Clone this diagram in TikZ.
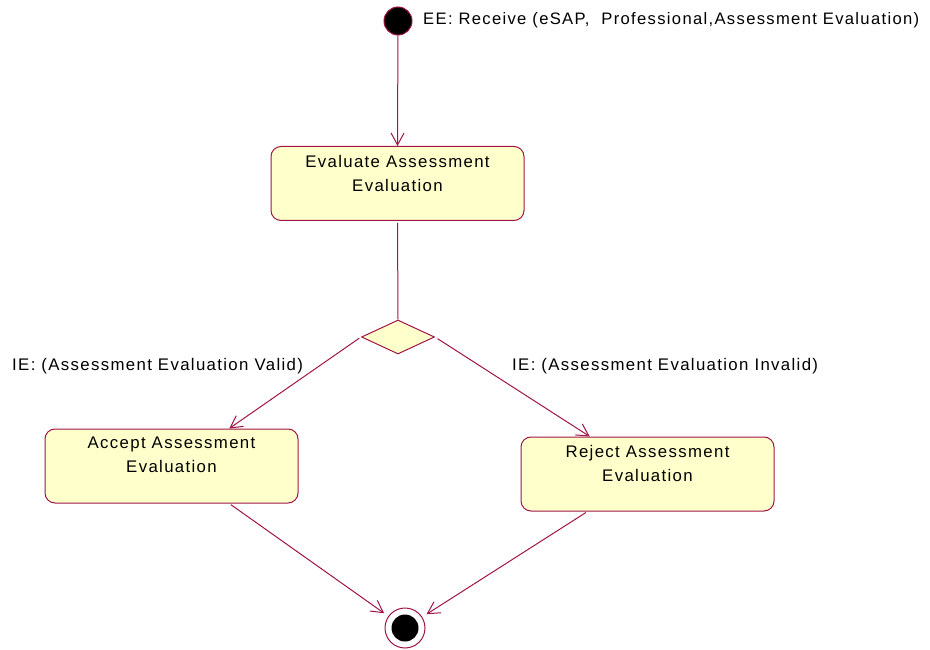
\documentclass[tikz,border=0pt]{standalone}
\usepackage{fontspec}
\setmainfont{Liberation Sans}[LetterSpace=8]
\usetikzlibrary{shapes.geometric,arrows.meta}
\definecolor{umlline}{RGB}{160,20,70}
\definecolor{umlfill}{RGB}{255,255,204}
\tikzset{
  x=1pt, y=-1pt,
  every node/.style={font=\fontsize{16.8}{24}\selectfont},
  statebox/.style={draw=umlline, fill=umlfill, line width=1pt, rounded corners=10pt,
    minimum width=253pt, minimum height=74pt, inner sep=0pt},
  statetext/.style={align=center, inner sep=0pt},
  flow/.style={draw=umlline, line width=1pt, -{Straight Barb[length=12pt,width=13pt]}},
  plainflow/.style={draw=umlline, line width=1pt},
  lbl/.style={inner sep=0pt, anchor=west}
}
\begin{document}
\begin{tikzpicture}
\useasboundingbox (0,0) rectangle (930,650);
% start
\node[circle, draw=umlline, fill=black, line width=1pt, minimum size=28pt, inner sep=0pt] (start) at (398,21) {};
\node[lbl, font=\fontsize{16.6}{24}\selectfont] (startlbl) at (423,20.5) {EE: Receive (eSAP,\ \ Professional,Assessment Evaluation)};
% evaluate
\node[statebox] (eval) at (397.5,183.5) {};
\node[statetext] (evalT) at (397.5,173) {Evaluate Assessment\\Evaluation};
% decision
\node[diamond, draw=umlline, fill=umlfill, line width=1pt, minimum width=73pt, minimum height=34pt, inner sep=0pt] (dec) at (398,337) {};
% accept / reject
\node[statebox] (accept) at (171.5,466) {};
\node[statetext] (acceptT) at (171.5,455) {Accept Assessment\\Evaluation};
\node[statebox] (reject) at (647.5,474) {};
\node[statetext] (rejectT) at (647.5,463.5) {Reject Assessment\\Evaluation};
% end
\node[circle, draw=umlline, fill=white, line width=1pt, minimum size=40pt, inner sep=0pt] (end) at (405,628) {};
\node[circle, fill=black, minimum size=27pt, inner sep=0pt] (endin) at (405,628) {};
% guards
\node[lbl] (validlbl) at (12,366.5) {IE: (Assessment Evaluation Valid)};
\node[lbl] (invalidlbl) at (512,366.5) {IE: (Assessment Evaluation Invalid)};
% connectors
\draw[flow] (start) -- (eval.north);
\draw[plainflow] (eval.south) ++(0,2) -- (dec.north);
\draw[flow, shorten <=2pt] (dec.west) -- (accept.33.2);
\draw[flow, shorten <=3pt] (dec.east) -- (reject.147.7);
\draw[flow, shorten <=2pt, shorten >=5pt] (accept.-33.2) -- (end);
\draw[flow, shorten <=2pt, shorten >=5pt] (reject.-148) -- (end);
\end{tikzpicture}
\end{document}
